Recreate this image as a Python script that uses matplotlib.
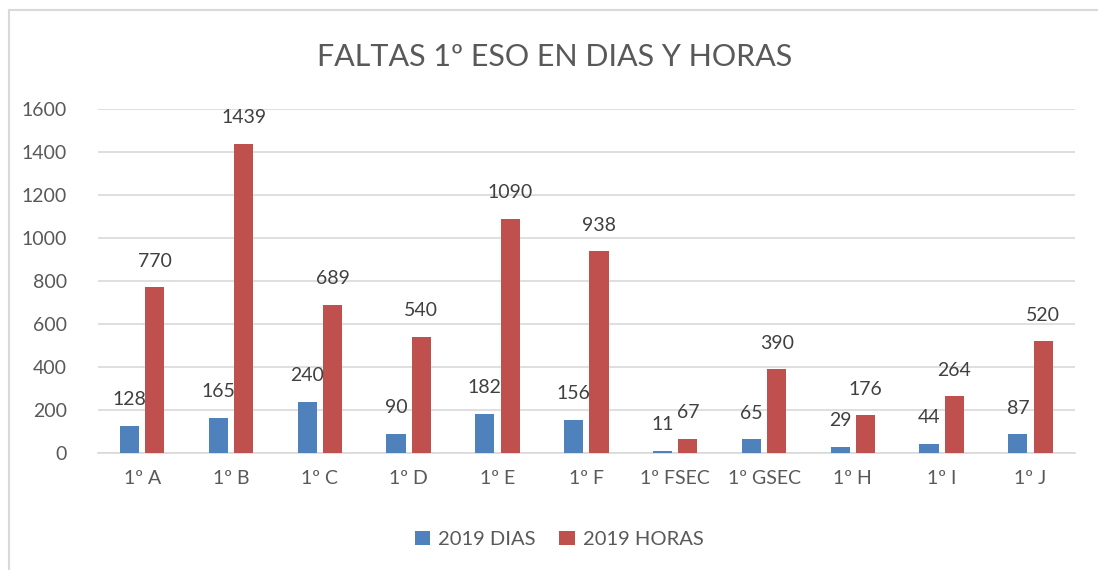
import matplotlib.pyplot as plt
import numpy as np
from matplotlib.lines import Line2D

plt.rcParams['font.family'] = ['Lato', 'DejaVu Sans']

grupos = ['1º A', '1º B', '1º C', '1º D', '1º E', '1º F', '1º FSEC', '1º GSEC', '1º H', '1º I', '1º J']
dias = [128, 165, 240, 90, 182, 156, 11, 65, 29, 44, 87]
horas = [770, 1439, 689, 540, 1090, 938, 67, 390, 176, 264, 520]

azul = '#4F81BD'
rojo = '#C0504D'
gris = '#595959'

fig = plt.figure(figsize=(10.98, 5.70), dpi=100)
ax = fig.add_axes([0.089, 0.205, 0.890, 0.604])

x = np.arange(len(grupos))
w = 0.215
b1 = ax.bar(x - 0.143, dias, w, color=azul, label='2019 DIAS', zorder=3)
b2 = ax.bar(x + 0.143, horas, w, color=rojo, label='2019 HORAS', zorder=3)

# etiquetas de valor
for bars in (b1, b2):
    for r in bars:
        ax.annotate(str(int(r.get_height())),
                    (r.get_x() + r.get_width() / 2, r.get_height()),
                    xytext=(0, 26), textcoords='offset pixels',
                    ha='center', va='center', fontsize=14, color='#404040', zorder=4)

ax.set_xlim(-0.5, len(grupos) - 0.5)
ax.set_ylim(0, 1600)
ax.set_yticks(range(0, 1601, 200))
ax.set_xticks(x)
ax.set_xticklabels(grupos)
ax.tick_params(axis='both', length=0, labelsize=14, colors=gris)
ax.tick_params(axis='x', pad=12)
ax.tick_params(axis='y', pad=22)
ax.grid(axis='y', color='#D9D9D9', linewidth=1.2, zorder=0)
for s in ['top', 'right', 'left']:
    ax.spines[s].set_visible(False)
ax.spines['bottom'].set_color('#D9D9D9')
ax.spines['bottom'].set_linewidth(1.2)

fig.text(0.505, 0.9, 'FALTAS 1º ESO EN DIAS Y HORAS', ha='center', va='center',
         fontsize=22, color=gris)

ax.legend(loc='center', bbox_to_anchor=(0.472, -0.25), ncol=2, frameon=False,
          fontsize=14.5, labelcolor=gris, handlelength=0.75, handleheight=0.75,
          handletextpad=0.4, columnspacing=1.2)

# borde del grafico
fig.add_artist(Line2D([9 / 1098, 9 / 1098], [0, 1 - 10 / 570], color='#D9D9D9', linewidth=1.5))
fig.add_artist(Line2D([9 / 1098, 1], [1 - 10 / 570, 1 - 10 / 570], color='#D9D9D9', linewidth=1.5))

fig.savefig('out.png', dpi=100)
